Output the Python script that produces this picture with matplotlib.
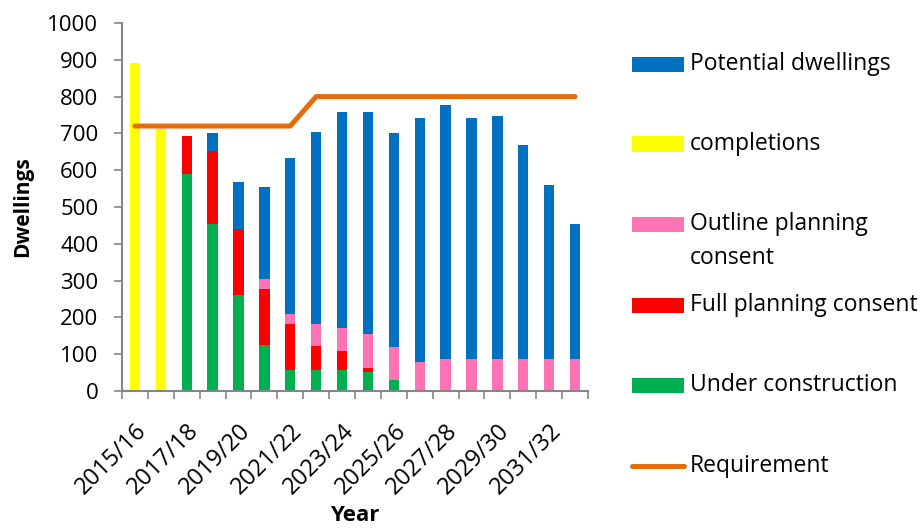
import matplotlib
matplotlib.use("Agg")
import matplotlib.pyplot as plt
from matplotlib.patches import Rectangle
from matplotlib.lines import Line2D
import numpy as np

plt.rcParams['font.family'] = ['Open Sans', 'DejaVu Sans']

years = ["2015/16", "2016/17", "2017/18", "2018/19", "2019/20", "2020/21",
         "2021/22", "2022/23", "2023/24", "2024/25", "2025/26", "2026/27",
         "2027/28", "2028/29", "2029/30", "2030/31", "2031/32", "2032/33"]
completions = [890, 712, 0, 0, 0, 0, 0, 0, 0, 0, 0, 0, 0, 0, 0, 0, 0, 0]
under_construction = [0, 0, 590, 455, 262, 125, 58, 58, 58, 51, 30, 0, 0, 0, 0, 0, 0, 0]
full_consent = [0, 0, 103, 197, 178, 151, 123, 63, 51, 12, 0, 0, 0, 0, 0, 0, 0, 0]
outline_consent = [0, 0, 0, 0, 0, 27, 29, 60, 61, 91, 90, 79, 87, 87, 87, 87, 87, 87]
potential = [0, 0, 0, 50, 129, 251, 424, 523, 587, 603, 582, 663, 690, 656, 660, 581, 474, 366]
requirement = [720] * 7 + [800] * 11

series = [
    ("completions", completions, "#FFFF00"),
    ("Under construction", under_construction, "#00B050"),
    ("Full planning consent", full_consent, "#FF0000"),
    ("Outline planning\nconsent", outline_consent, "#FF73B4"),
    ("Potential dwellings", potential, "#0070C0"),
]
req_color = "#E46C0A"

W, H = 922, 529
fig = plt.figure(figsize=(W / 100, H / 100), dpi=100)
ax = fig.add_axes([122 / W, 1 - 391 / H, (588 - 122) / W, (391 - 23) / H])

x = np.arange(len(years))
bottom = np.zeros(len(years))
for label, vals, color in series:
    ax.bar(x, vals, width=0.4, bottom=bottom, color=color, linewidth=0)
    bottom += np.array(vals)

ax.plot(x, requirement, color=req_color, linewidth=3.6, solid_capstyle='round')

ax.set_xlim(-0.5, len(years) - 0.5)
ax.set_ylim(0, 1000)
ax.set_yticks(range(0, 1001, 100))
ax.tick_params(axis='y', labelsize=16, length=6, width=1.2, color='#868686', pad=11)
ax.set_xticks(x[::2])
ax.set_xticklabels(years[::2], rotation=45, ha='right', va='top',
                   rotation_mode='anchor', fontsize=17)
ax.tick_params(axis='x', which='major', length=0, pad=20)
ax.set_xticks(np.arange(-0.5, len(years)), minor=True)
ax.tick_params(axis='x', which='minor', length=6, width=1.2, color='#868686')

for s in ['top', 'right']:
    ax.spines[s].set_visible(False)
for s in ['left', 'bottom']:
    ax.spines[s].set_color('#868686')
    ax.spines[s].set_linewidth(1.5)

ax.set_ylabel("Dwellings", fontsize=15, fontweight='bold', labelpad=10)
ax.set_xlabel("Year", fontsize=16, fontweight='bold', labelpad=4)

# legend, laid out like the original
legend_items = [
    ("Potential dwellings", "#0070C0", 64),
    ("completions", "#FFFF00", 144),
    ("Outline planning\nconsent", "#FF73B4", 224),
    ("Full planning consent", "#FF0000", 305),
    ("Under construction", "#00B050", 385),
    ("Requirement", req_color, 466),
]
for label, color, yc in legend_items:
    yf = 1 - yc / H
    if label == "Requirement":
        fig.add_artist(Line2D([632 / W, 684 / W], [yf, yf], color=color,
                              linewidth=3.6, solid_capstyle='round'))
    else:
        fig.add_artist(Rectangle((632 / W, yf - 7.5 / H), 52 / W, 15 / H,
                                 facecolor=color, linewidth=0))
    lines = label.split("\n")
    for i, ln in enumerate(lines):
        fig.text(690 / W, 1 - (yc + i * 34) / H, ln, fontsize=16.5, va='center', ha='left')

fig.savefig("out.png", dpi=100)
